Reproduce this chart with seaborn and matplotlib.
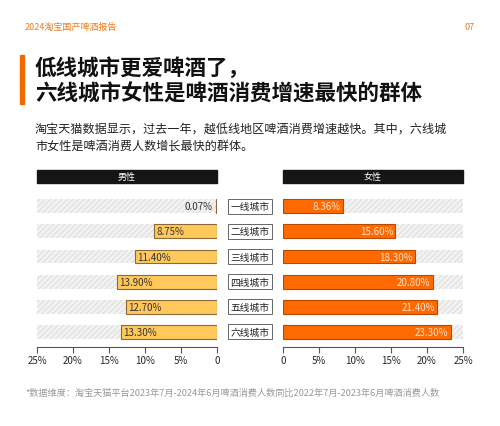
import matplotlib
matplotlib.use("Agg")
import matplotlib.pyplot as plt
import seaborn as sns
import pandas as pd

sns.set_theme(style="white")
plt.rcParams["font.family"] = ["Noto Sans CJK SC", "DejaVu Sans"]
plt.rcParams["hatch.color"] = "#d6d6d6"
plt.rcParams["hatch.linewidth"] = 0.6

cities = ["一线城市", "二线城市", "三线城市", "四线城市", "五线城市", "六线城市"]
male = [0.07, 8.75, 11.40, 13.90, 12.70, 13.30]
female = [8.36, 15.60, 18.30, 20.80, 21.40, 23.30]
ticks = [0, 5, 10, 15, 20, 25]

df = pd.DataFrame({"city": cities, "male": male, "female": female})

fig = plt.figure(figsize=(5, 4.27), dpi=100)
fig.patch.set_facecolor("white")

# header
fig.text(0.05, 0.935, "2024淘宝国产啤酒报告", color="#f07a1a", fontsize=6.5, va="center")
fig.text(0.95, 0.935, "07", color="#f07a1a", fontsize=6.5, va="center", ha="right")
fig.add_artist(plt.Rectangle((0.04, 0.755), 0.008, 0.113, color="#f06a00", transform=fig.transFigure))
fig.text(0.07, 0.84, "低线城市更爱啤酒了，", fontsize=15.5, fontweight="bold", va="center", color="#111")
fig.text(0.07, 0.78, "六线城市女性是啤酒消费增速最快的群体", fontsize=15.5, fontweight="bold", va="center", color="#111")
fig.text(0.07, 0.678, "淘宝天猫数据显示，过去一年，越低线地区啤酒消费增速越快。其中，六线城\n市女性是啤酒消费人数增长最快的群体。",
         fontsize=8.7, va="center", color="#222", linespacing=1.45)
fig.text(0.05, 0.08, "*数据维度：淘宝天猫平台2023年7月-2024年6月啤酒消费人数同比2022年7月-2023年6月啤酒消费人数",
         fontsize=6.6, color="#999", va="center")

bottom, top = 0.185, 0.55
axl = fig.add_axes([0.074, bottom, 0.36, top - bottom])
axr = fig.add_axes([0.566, bottom, 0.36, top - bottom])

for ax, col, color, edge, side in [(axl, "male", "#ffc85a", "#8a6a3a", "l"),
                                    (axr, "female", "#ff6a00", "#b84a00", "r")]:
    ax.barh(cities, [25] * 6, height=0.55, color="#f2f2f2", hatch="//////", edgecolor="#d9d9d9", linewidth=0)
    sns.barplot(data=df, y="city", x=col, orient="h", color=color, edgecolor=edge,
                linewidth=0.8, width=0.55, saturation=1, ax=ax)
    ax.set_xlim(0, 25)
    ax.set_xticks(ticks)
    ax.set_ylabel("")
    ax.set_xlabel("")
    ax.set_yticks([])
    for s in ["top", "right", "left"]:
        ax.spines[s].set_visible(False)
    ax.spines["bottom"].set_color("#555")
    ax.spines["bottom"].set_linewidth(0.8)
    ax.tick_params(axis="x", bottom=True, length=4, width=0.8, color="#555", labelsize=7, pad=2)
    for i, v in enumerate(df[col]):
        if side == "l":
            if v < 1:
                ax.text(v + 0.5, i, f"{v:.2f}%", ha="right", va="center", fontsize=7, color="#333")
            else:
                ax.text(v - 0.3, i, f"{v:.2f}%", ha="left", va="center", fontsize=7, color="#333")
        else:
            ax.text(v - 0.3, i, f"{v:.2f}%", ha="right", va="center", fontsize=7, color="#ffe0c8")
    ax.set_ylim(5.6, -0.6)

axl.invert_xaxis()
axl.set_xticklabels(["0", "5%", "10%", "15%", "20%", "25%"])
axr.set_xticklabels(["0", "5%", "10%", "15%", "20%", "25%"])

# gender header bars
for x0, label in [(0.074, "男性"), (0.566, "女性")]:
    fig.add_artist(plt.Rectangle((x0, 0.569), 0.36, 0.031, color="#151515", transform=fig.transFigure))
    fig.text(x0 + 0.18, 0.585, label, color="white", fontsize=6.5, ha="center", va="center")

# city labels in middle
for i, c in enumerate(cities):
    y = bottom + (top - bottom) * (5.6 - i) / 6.2
    fig.text(0.5, y, c, ha="center", va="center", fontsize=7, color="#222",
             bbox=dict(boxstyle="square,pad=0.25", fc="white", ec="#666", lw=0.7))

fig.savefig("out.png", dpi=100)
